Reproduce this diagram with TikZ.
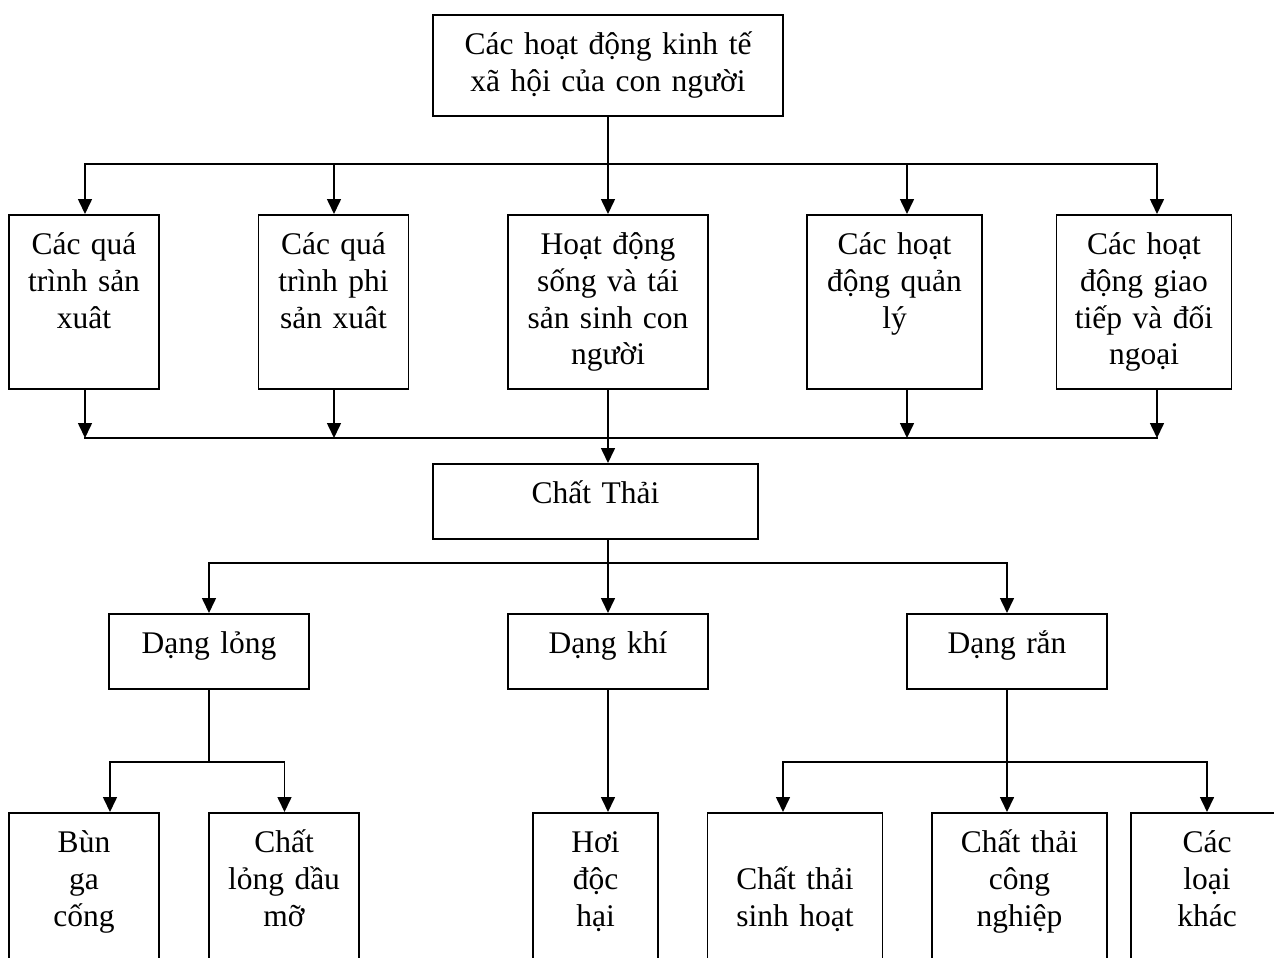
\documentclass[tikz,border=0pt]{standalone}
\usepackage{fontspec}
\setmainfont{Liberation Serif}
\usetikzlibrary{arrows.meta}

\begin{document}
\begin{tikzpicture}[x=1pt, y=-1pt, line width=1.6pt, line cap=rect,
    box/.style={draw, inner sep=0pt, anchor=north, align=center, text height=40pt,
        font=\fontsize{31.5}{36.7}\selectfont},
    arr/.style={-{Triangle[length=15pt, width=14pt]}}]
    \useasboundingbox (0,0) rectangle (1274,958);
    \clip (0,0) rectangle (1274,958);

    \node[box, text width=350pt, text depth=61pt] (act) at (608,14) {Các hoạt động kinh tế\\xã hội của con người};

    \node[box, text width=150pt, text depth=134pt] (p1) at (84,214) {Các quá\\trình sản\\xuât};
    \node[box, text width=150pt, text depth=134pt] (p2) at (333.5,214) {Các quá\\trình phi\\sản xuât};
    \node[box, text width=200pt, text depth=134pt] (p3) at (608,214) {Hoạt động\\sống và tái\\sản sinh con\\người};
    \node[box, text width=175pt, text depth=134pt] (p4) at (894.5,214) {Các hoạt\\động quản\\lý};
    \node[box, text width=175pt, text depth=134pt] (p5) at (1144,214) {Các hoạt\\động giao\\tiếp và đối\\ngoại};

    \node[box, text width=325pt, text depth=35pt] (waste) at (595.5,463) {Chất Thải};

    \node[box, text width=200pt, text depth=35pt] (liquid) at (209,613) {Dạng lỏng};
    \node[box, text width=200pt, text depth=35pt] (gas) at (608,613) {Dạng khí};
    \node[box, text width=200pt, text depth=35pt] (solid) at (1007,613) {Dạng rắn};

    \node[box, text width=150pt, text depth=200pt] (mud) at (84,812) {Bùn\\ga\\cống};
    \node[box, text width=150pt, text depth=200pt] (oil) at (284,812) {Chất\\lỏng dầu\\mỡ};
    \node[box, text width=125pt, text depth=200pt] (vapor) at (595.5,812) {Hơi\\độc\\hại};
    \node[box, text width=175pt, text depth=200pt] (dom) at (795,812) {\mbox{}\\Chất thải\\sinh hoạt};
    \node[box, text width=175pt, text depth=200pt] (ind) at (1019.5,812) {Chất thải\\công\\nghiệp};
    \node[box, text width=152pt, text depth=200pt] (other) at (1207,812) {Các\\loại\\khác};

    % bus points
    \coordinate (t1) at (85,164);  \coordinate (t2) at (334,164);  \coordinate (t3) at (608,164);
    \coordinate (t4) at (907,164); \coordinate (t5) at (1157,164);
    \coordinate (u1) at (85,438);  \coordinate (u2) at (334,438);
    \coordinate (u4) at (907,438); \coordinate (u5) at (1157,438);
    \coordinate (c1) at (209,563); \coordinate (c2) at (608,563); \coordinate (c3) at (1007,563);
    \coordinate (l0) at (209,762); \coordinate (l1) at (110,762); \coordinate (l2) at (284.5,762);
    \coordinate (s0) at (1007,762); \coordinate (s1) at (783,762); \coordinate (s3) at (1207,762);

    \draw (act.south) -- (t3);
    \draw (t1) -- (t5);
    \foreach \i in {1,...,5}
        \draw[arr] (t\i) -- (t\i |- p\i.north);
    \foreach \i in {1,2,4,5}
        \draw[arr] (u\i |- p\i.south) -- (u\i);
    \draw (u1) -- (u5);
    \draw[arr] (p3.south) -- (p3.south |- waste.north);

    \draw (waste.south -| c2) -- (c2);
    \draw (c1) -- (c3);
    \path[arr] (c1) edge (liquid.north)
               (c2) edge (gas.north)
               (c3) edge (solid.north);

    \draw (liquid.south) -- (l0);
    \draw (l1) -- (l2);
    \path[arr] (l1) edge (l1 |- mud.north)
               (l2) edge (l2 |- oil.north)
               (gas.south) edge (gas.south |- vapor.north);

    \draw (solid.south) -- (s0);
    \draw (s1) -- (s3);
    \path[arr] (s1) edge (s1 |- dom.north)
               (s0) edge (s0 |- ind.north)
               (s3) edge (s3 |- other.north);
\end{tikzpicture}
\end{document}
